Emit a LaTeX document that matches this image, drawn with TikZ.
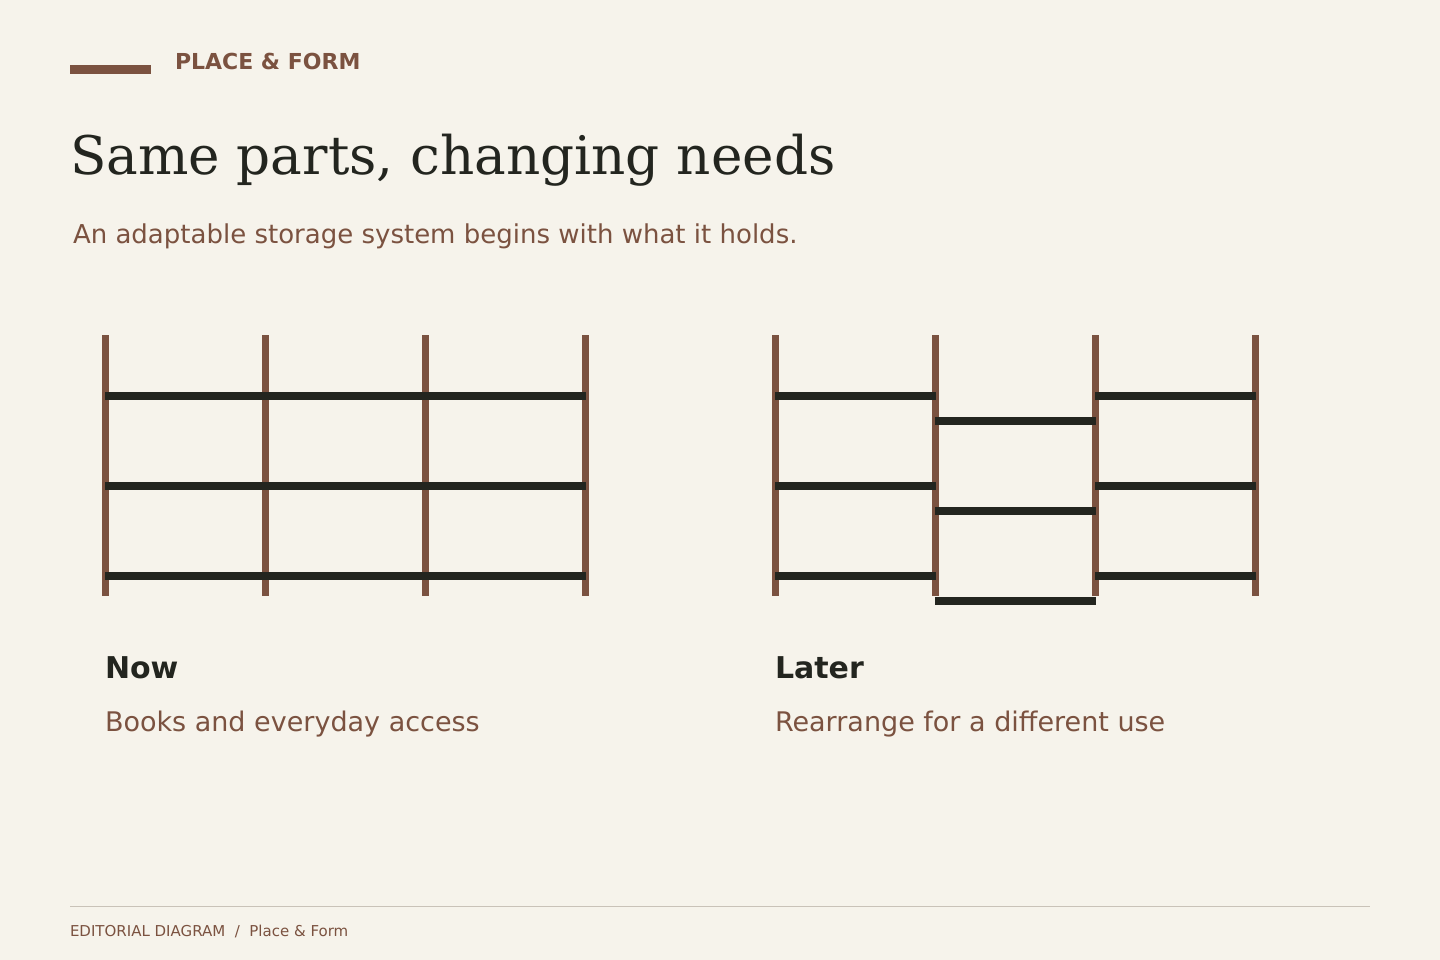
\documentclass[tikz,border=0pt]{standalone}
\usepackage{fontspec}
\setmainfont{DejaVu Sans}
\newfontfamily\serifdv{DejaVu Serif}
\definecolor{bg}{HTML}{F6F3EB}
\definecolor{brn}{HTML}{7B5240}
\definecolor{drk}{HTML}{23251F}
\definecolor{rule}{HTML}{C9C2B8}
\begin{document}
\begin{tikzpicture}[x=1pt,y=-1pt,
  txt/.style={anchor=base west,inner sep=0pt,outer sep=0pt},
  post/.style={draw=brn,line width=7pt},
  shelf/.style={draw=drk,line width=8pt}]
\fill[bg] (0,0) rectangle (1440,960);
\useasboundingbox (0,0) rectangle (1440,960);
% header
\fill[brn] (70,65) rectangle (151,74);
\node[txt,text=brn,font=\bfseries\fontsize{22}{26}\selectfont] (kick) at (175,69.5) {PLACE \& FORM};
\node[txt,text=drk,font=\serifdv\fontsize{53.2}{64}\selectfont] (title) at (70,175) {Same parts, changing needs};
\node[txt,text=brn,font=\fontsize{26}{31}\selectfont] (sub) at (73,243.5) {An adaptable storage system begins with what it holds.};
% left unit
\foreach \x [count=\i] in {105.5,265.5,425.5,585.5}{
  \coordinate (lt\i) at (\x,335); \coordinate (lb\i) at (\x,596);
  \draw[post] (lt\i) -- (lb\i);}
\foreach \y [count=\j] in {396,486,576}{
  \coordinate (ls\j a) at (105,\y); \coordinate (ls\j b) at (586,\y);
  \draw[shelf] (ls\j a) -- (ls\j b);}
% right unit
\foreach \x [count=\i] in {775.5,935.5,1095.5,1255.5}{
  \coordinate (rt\i) at (\x,335); \coordinate (rb\i) at (\x,596);
  \draw[post] (rt\i) -- (rb\i);}
\foreach \y [count=\j] in {396,486,576}{
  \coordinate (ra\j a) at (775,\y); \coordinate (ra\j b) at (936,\y);
  \draw[shelf] (ra\j a) -- (ra\j b);
  \coordinate (rc\j a) at (1095,\y); \coordinate (rc\j b) at (1256,\y);
  \draw[shelf] (rc\j a) -- (rc\j b);}
\foreach \y [count=\j] in {421,511,601}{
  \coordinate (rm\j a) at (935,\y); \coordinate (rm\j b) at (1096,\y);
  \draw[shelf] (rm\j a) -- (rm\j b);}
% captions
\node[txt,text=drk,font=\bfseries\fontsize{30}{36}\selectfont] (now) at (105,678.5) {Now};
\node[txt,text=brn,font=\fontsize{27}{32}\selectfont] (nowd) at (105,731) {Books and everyday access};
\node[txt,text=drk,font=\bfseries\fontsize{30}{36}\selectfont] (later) at (775,678.5) {Later};
\node[txt,text=brn,font=\fontsize{27}{32}\selectfont] (laterd) at (775,731) {Rearrange for a different use};
% footer
\coordinate (fa) at (70,906.5); \coordinate (fb) at (1370,906.5);
\draw[rule,line width=1pt] (fa) -- (fb);
\node[txt,text=brn,font=\fontsize{15}{18}\selectfont] (foot) at (70,936) {EDITORIAL DIAGRAM\ \ /\ \ Place \& Form};
\end{tikzpicture}
\end{document}
